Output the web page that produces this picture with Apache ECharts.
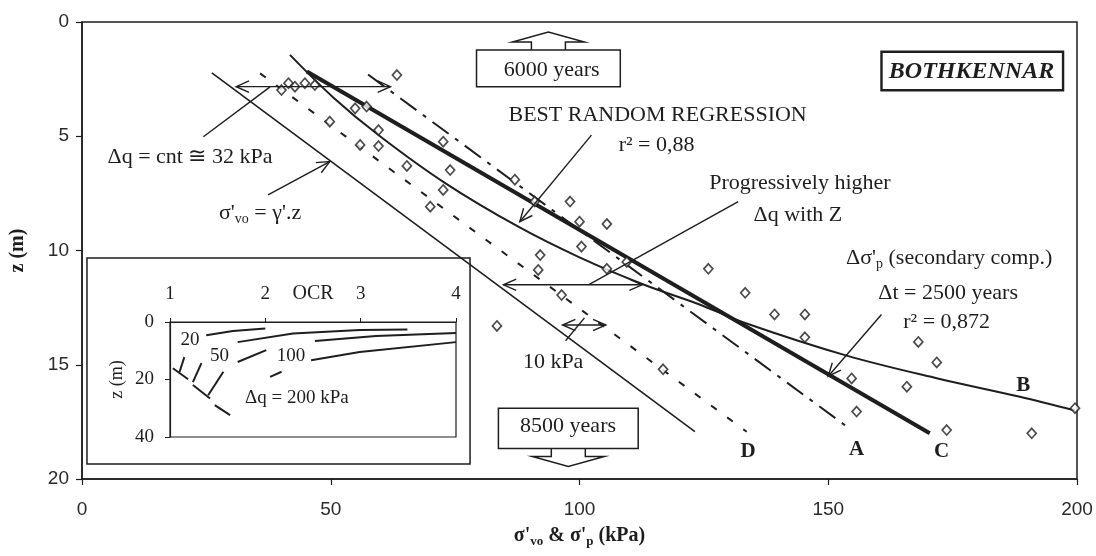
<!DOCTYPE html>
<html>
<head>
<meta charset="utf-8">
<title>Bothkennar – σ'p profile</title>
<script src="https://cdn.jsdelivr.net/npm/echarts@6/dist/echarts.min.js"></script>
<style>
  html, body { margin: 0; padding: 0; background: #fff; }
  #chart { width: 1096px; height: 556px; }
</style>
</head>
<body>
<div id="chart"></div>
<script>
// ---- axes -------------------------------------------------------------
const xTicks = [0, 50, 100, 150, 200];       // σ' (kPa)
const zTicks = [0, 5, 10, 15, 20];           // depth (m)
const ocrTicks = [1, 2, 3, 4];               // inset OCR
const insetZTicks = [0, 20, 40];             // inset depth (m)

// ---- measured preconsolidation stress (kPa) and depth (m) -------------
const sigmaP = [63.3, 40.1, 41.5, 42.8, 44.8, 46.8, 54.9, 57.2, 49.8, 59.6,
                55.9, 59.6, 65.3, 72.6, 74.0, 72.6, 70.0, 87.0, 98.1, 105.5,
                100.4, 92.1, 91.7, 125.9, 105.5, 100.0, 91.0, 109.5, 96.4, 83.4,
                116.8, 133.3, 139.2, 145.3, 145.3, 168.1, 171.8, 154.7, 165.8, 155.7,
                173.8, 190.9, 199.6];
const depthZ = [2.32, 2.98, 2.68, 2.83, 2.68, 2.76, 3.78, 3.70, 4.36, 4.73,
                5.38, 5.43, 6.30, 5.24, 6.48, 7.35, 8.08, 6.90, 7.86, 8.84,
                9.83, 10.20, 10.85, 10.80, 10.80, 8.74, 7.86, 10.50, 11.95, 13.30,
                15.20, 11.85, 12.80, 12.80, 13.80, 14.00, 14.90, 15.60, 15.96, 17.05,
                17.86, 18.00, 16.90];

// ---- profiles: [σ' (kPa), z (m)] --------------------------------------
const sigmaVo = [[26.1, 2.23], [123.2, 17.93]];                 // σ'vo = γ'.z
const lineD   = [[35.8, 2.25], [133.6, 17.93]];                 // σ'vo + 10 kPa
const lineA   = [[57.5, 2.30], [153.7, 17.70]];                 // σ'vo + 32 kPa
const lineC   = [[45.2, 2.17], [170.4, 18.00]];                 // secondary compression, 2500 years
const lineB   = [[41.8, 1.44], [50.5, 3.30], [59.9, 5.00], [73.0, 7.05], [87.7, 8.96],
                 [100.0, 10.30], [113.0, 11.50], [124.0, 12.35], [133.0, 13.15],
                 [153.7, 14.60], [172.0, 15.60], [188.5, 16.40], [199.6, 17.00]]; // best random regression

// ---- inset: OCR vs z for constant Δq (each entry is one drawn stroke) --
const insetStrokes = [
  [[1.38, 4.6], [1.66, 3.1], [2.00, 2.3]],
  [[1.71, 7.0], [2.29, 4.0], [2.99, 2.8], [3.49, 2.6]],
  [[2.52, 6.6], [3.16, 4.9], [4.00, 3.8]],
  [[2.48, 13.3], [2.99, 10.4], [4.00, 7.0]],
  [[1.71, 13.9], [2.01, 9.8]],
  [[2.05, 19.1], [2.17, 17.3]],
  [[1.03, 16.1], [1.19, 19.9]],
  [[1.15, 12.2], [1.10, 17.4]],
  [[1.33, 14.3], [1.24, 20.9]],
  [[1.24, 21.9], [1.42, 26.6]],
  [[1.56, 17.3], [1.40, 25.5]],
  [[1.47, 28.9], [1.63, 32.4]]
];

// ---- annotations ------------------------------------------------------
// arrows: [x1, z1, x2, z2, heads]  heads: 0 = plain line, 1 = head at end, 2 = both ends
const arrows = [
  [31.0, 2.83, 62.0, 2.83, 2],
  [84.7, 11.50, 112.6, 11.50, 2],
  [96.6, 13.26, 105.3, 13.26, 2],
  [37.4, 7.57, 49.8, 6.11, 1],
  [102.4, 4.95, 88.0, 8.74, 1],
  [160.7, 12.80, 150.0, 15.50, 1],
  [24.4, 5.02, 37.8, 2.84, 0],
  [131.9, 7.86, 101.8, 11.50, 0],
  [97.2, 13.95, 101.0, 12.95, 0]
];
// boxes: [x1, z1, x2, z2, kind]  kind: 0 inset frame, 1 box + up arrow, 2 box + down arrow, 3 title box
const boxes = [
  [1.0, 10.33, 78.0, 19.34, 0],
  [79.3, 1.23, 108.2, 2.83, 1],
  [83.7, 16.90, 111.8, 18.66, 2],
  [160.7, 1.30, 197.2, 2.99, 3]
];
const notes = [
  { x: 21.7,  z: 5.90,  t: 'Δq = cnt ≅ 32 kPa' },
  { x: 35.8,  z: 8.37,  t: "{m|σ'}{s|vo}{m| = γ'.z}" },
  { x: 115.7, z: 4.07,  t: 'BEST RANDOM REGRESSION' },
  { x: 115.5, z: 5.38,  t: 'r² = 0,88' },
  { x: 144.3, z: 7.06,  t: 'Progressively higher' },
  { x: 143.9, z: 8.45,  t: 'Δq with Z' },
  { x: 174.3, z: 10.33, t: "{m|Δσ'}{s|p}{m| (secondary comp.)}" },
  { x: 174.1, z: 11.87, t: 'Δt = 2500 years' },
  { x: 173.8, z: 13.12, t: 'r² = 0,872' },
  { x: 94.7,  z: 14.87, t: '10 kPa' },
  { x: 94.4,  z: 2.10,  t: '6000 years' },
  { x: 97.7,  z: 17.71, t: '8500 years' },
  { x: 178.8, z: 2.17,  t: 'BOTHKENNAR', style: 'title' },
  { x: 133.9, z: 18.82, t: 'D', style: 'bold' },
  { x: 155.7, z: 18.73, t: 'A', style: 'bold' },
  { x: 172.8, z: 18.80, t: 'C', style: 'bold' },
  { x: 189.2, z: 15.90, t: 'B', style: 'bold' }
];
const insetNotes = [
  { x: 1.21, z: 6.3,  t: '20' },
  { x: 1.52, z: 11.9, t: '50' },
  { x: 2.27, z: 11.9, t: '100' },
  { x: 2.33, z: 26.6, t: 'Δq = 200 kPa' }
];

// ---- styling ----------------------------------------------------------
const INK = '#1e1e1e';
const SERIF = '"Liberation Serif", "Times New Roman", serif';
const SANS = '"Liberation Sans", Arial, sans-serif';
const RICH = {
  m: { fontFamily: SERIF, fontSize: 22, lineHeight: 26, fill: INK },
  s: { fontFamily: SERIF, fontSize: 14, lineHeight: 14, verticalAlign: 'bottom', fill: INK }
};

function renderArrow(params, api) {
  const a = api.coord([api.value(0), api.value(1)]);
  const b = api.coord([api.value(2), api.value(3)]);
  const heads = api.value(4);
  const children = [{
    type: 'line', shape: { x1: a[0], y1: a[1], x2: b[0], y2: b[1] },
    style: { stroke: INK, lineWidth: 1.4 }
  }];
  const head = (tip, from) => {
    const ang = Math.atan2(from[1] - tip[1], from[0] - tip[0]);
    const L = 14, s = 0.42;
    return {
      type: 'polyline',
      shape: { points: [
        [tip[0] + L * Math.cos(ang + s), tip[1] + L * Math.sin(ang + s)],
        [tip[0], tip[1]],
        [tip[0] + L * Math.cos(ang - s), tip[1] + L * Math.sin(ang - s)]
      ] },
      style: { stroke: INK, fill: 'none', lineWidth: 1.4 }
    };
  };
  if (heads >= 1) children.push(head(b, a));
  if (heads >= 2) children.push(head(a, b));
  return { type: 'group', children };
}

function renderBox(params, api) {
  const p1 = api.coord([api.value(0), api.value(1)]);
  const p2 = api.coord([api.value(2), api.value(3)]);
  const kind = api.value(4);
  const x = Math.min(p1[0], p2[0]), y = Math.min(p1[1], p2[1]);
  const w = Math.abs(p2[0] - p1[0]), h = Math.abs(p2[1] - p1[1]);
  const children = [{
    type: 'rect', shape: { x, y, width: w, height: h },
    style: { fill: 'none', stroke: INK, lineWidth: kind === 3 ? 2.4 : 1.5 }
  }];
  const cx = x + w / 2;
  if (kind === 1 || kind === 2) {
    const base = kind === 1 ? y : y + h;
    const d = kind === 1 ? -1 : 1;
    children.push({
      type: 'polyline',
      shape: { points: [
        [cx - 17, base], [cx - 17, base + d * 8], [cx - 36, base + d * 8],
        [cx, base + d * 18],
        [cx + 36, base + d * 8], [cx + 17, base + d * 8], [cx + 17, base]
      ] },
      style: { fill: 'none', stroke: INK, lineWidth: 1.5 }
    });
  }
  return { type: 'group', children };
}

function textRenderer(list, size) {
  return function (params, api) {
    const n = list[params.dataIndex];
    const p = api.coord([api.value(0), api.value(1)]);
    const st = {
      text: n.t, x: p[0], y: p[1], align: 'center', verticalAlign: 'middle',
      fill: INK, fontFamily: SERIF, fontSize: size, lineHeight: 26, rich: RICH
    };
    if (n.style === 'bold') { st.fontWeight = 'bold'; st.fontSize = 21; }
    if (n.style === 'title') { st.fontWeight = 'bold'; st.fontStyle = 'italic'; st.fontSize = 24; }
    return { type: 'text', style: st };
  };
}

const axisCommon = {
  nameMoveOverlap: false,
  axisLine: { show: true, onZero: false, lineStyle: { color: INK, width: 1.5 } },
  axisTick: { show: true, length: 6, lineStyle: { color: INK, width: 1.2 } },
  splitLine: { show: false }
};

const lineSeries = (data, width, type, z, smooth) => ({
  type: 'line', data, xAxisIndex: 0, yAxisIndex: 0, symbol: 'none', smooth: smooth || false,
  lineStyle: { color: INK, width, type }, z, silent: true
});

const insetSeries = insetStrokes.map(s => ({
  type: 'line', data: s, xAxisIndex: 1, yAxisIndex: 1, symbol: 'none',
  lineStyle: { color: INK, width: 2 }, z: 4, silent: true
}));

const chart = echarts.init(document.getElementById('chart'), null, { renderer: 'canvas' });
chart.setOption({
  animation: false,
  backgroundColor: '#ffffff',
  grid: [
    { left: 82, right: 19, top: 22, bottom: 77, show: true, borderColor: INK, borderWidth: 1.5,
      containLabel: false, outerBoundsMode: 'none' },
    { left: 170, right: 640, top: 322, bottom: 119, show: true, borderColor: INK, borderWidth: 1.2,
      containLabel: false, outerBoundsMode: 'none' }
  ],
  xAxis: [
    Object.assign({
      gridIndex: 0, type: 'value', position: 'bottom',
      min: xTicks[0], max: xTicks[xTicks.length - 1], interval: xTicks[1] - xTicks[0],
      axisLabel: { color: '#2a2a2a', fontFamily: SANS, fontSize: 19, margin: 21 },
      name: "{b|σ'}{bs|vo}{b| & σ'}{bs|p}{b| (kPa)}",
      nameLocation: 'middle', nameGap: 45,
      nameTextStyle: { rich: {
        b: { fontFamily: SERIF, fontWeight: 'bold', fontSize: 20, lineHeight: 24, color: INK },
        bs: { fontFamily: SERIF, fontWeight: 'bold', fontSize: 13, lineHeight: 13, verticalAlign: 'bottom', color: INK }
      } }
    }, axisCommon),
    Object.assign({}, axisCommon, {
      gridIndex: 1, type: 'value', position: 'top',
      min: ocrTicks[0], max: ocrTicks[ocrTicks.length - 1], interval: 1,
      axisLine: { show: true, onZero: false, lineStyle: { color: INK, width: 1.2 } },
      axisTick: { show: true, length: 4, lineStyle: { color: INK } },
      axisLabel: { color: INK, fontFamily: SERIF, fontSize: 19, margin: 18 },
      name: 'OCR', nameLocation: 'middle', nameGap: 18,
      nameTextStyle: { color: INK, fontFamily: SERIF, fontSize: 20 }
    })
  ],
  yAxis: [
    Object.assign({
      gridIndex: 0, type: 'value', inverse: true,
      min: zTicks[0], max: zTicks[zTicks.length - 1], interval: zTicks[1] - zTicks[0],
      axisLabel: { color: '#2a2a2a', fontFamily: SANS, fontSize: 19, margin: 13 },
      name: 'z (m)', nameLocation: 'middle', nameGap: 54, nameRotate: 90,
      nameTextStyle: { color: INK, fontFamily: SERIF, fontWeight: 'bold', fontSize: 20 }
    }, axisCommon),
    Object.assign({}, axisCommon, {
      gridIndex: 1, type: 'value', inverse: true,
      min: insetZTicks[0], max: insetZTicks[insetZTicks.length - 1], interval: 20,
      axisLine: { show: true, onZero: false, lineStyle: { color: INK, width: 1.2 } },
      axisTick: { show: true, length: 5, lineStyle: { color: INK } },
      axisLabel: { color: INK, fontFamily: SERIF, fontSize: 19, margin: 16 },
      name: 'z (m)', nameLocation: 'middle', nameGap: 44, nameRotate: 90,
      nameTextStyle: { color: INK, fontFamily: SERIF, fontSize: 18 }
    })
  ],
  series: [
    { type: 'custom', name: 'boxes', xAxisIndex: 0, yAxisIndex: 0, z: 1, silent: true,
      data: boxes, encode: { x: [0, 2], y: [1, 3] }, renderItem: renderBox },
    lineSeries(sigmaVo, 1.6, 'solid', 2),
    lineSeries(lineD, 2, [7, 13], 2),
    lineSeries(lineA, 2, [20, 8, 4, 8], 2),
    lineSeries(lineB, 2, 'solid', 2, 0.35),
    lineSeries(lineC, 4, 'solid', 2),
    { type: 'scatter', xAxisIndex: 0, yAxisIndex: 0, z: 3, silent: true,
      data: sigmaP.map((s, i) => [s, depthZ[i]]),
      symbol: 'diamond', symbolSize: [9, 10],
      itemStyle: { color: '#ffffff', borderColor: INK, borderWidth: 1.7 } },
    { type: 'custom', name: 'arrows', xAxisIndex: 0, yAxisIndex: 0, z: 4, silent: true,
      data: arrows, encode: { x: [0, 2], y: [1, 3] }, renderItem: renderArrow },
    { type: 'custom', name: 'notes', xAxisIndex: 0, yAxisIndex: 0, z: 5, silent: true,
      data: notes.map(n => [n.x, n.z]), renderItem: textRenderer(notes, 22) },
    ...insetSeries,
    { type: 'custom', name: 'insetNotes', xAxisIndex: 1, yAxisIndex: 1, z: 5, silent: true,
      data: insetNotes.map(n => [n.x, n.z]), renderItem: textRenderer(insetNotes, 19) }
  ]
});
</script>
</body>
</html>
